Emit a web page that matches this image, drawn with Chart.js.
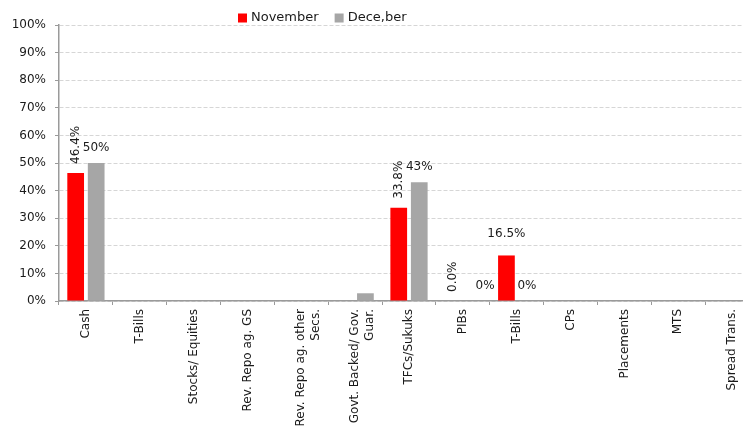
<!DOCTYPE html>
<html>
<head>
<meta charset="utf-8">
<script src="https://cdn.jsdelivr.net/npm/chart.js@4.4.0/dist/chart.umd.min.js"></script>
<style>
  html, body { margin: 0; padding: 0; background: #fff; }
  #wrap { width: 743px; height: 427px; overflow: hidden; position: relative; }
</style>
</head>
<body>
<div id="wrap"><canvas id="mixChart" width="760" height="427"></canvas></div>
<script>
(function () {
    'use strict';

    var categories = ['Cash', 'T-Bills', 'Stocks/ Equities', 'Rev. Repo ag. GS',
        ['Rev. Repo ag. other', 'Secs.'], ['Govt. Backed/ Gov.', 'Guar.'],
        'TFCs/Sukuks', 'PIBs', 'T-Bills', 'CPs', 'Placements', 'MTS', 'Spread Trans.'];
    var seriesNames = ['November', 'Dece,ber'];
    var novValues = [46.4, 0, 0, 0, 0, 0, 33.8, 0, 16.5, 0, 0, 0, 0];
    var decValues = [50, 0, 0, 0, 0, 2.8, 43, 0, 0, 0, 0, 0, 0];
    var novLabels = ['46.4%', null, null, null, null, null, '33.8%', '0.0%', '16.5%', null, null, null, null];
    var decLabels = ['50%', null, null, null, null, null, '43%', '0%', '0%', null, null, null, null];
    var novRotated = [true, false, false, false, false, false, true, true, false, false, false, false, false];
    var yTicks = [0, 10, 20, 30, 40, 50, 60, 70, 80, 90, 100];

    // small manual nudges (Excel moved a couple of labels)
    var nudges = { '1-7': [12, 0], '0-8': [0, -7] };

    var fontFam = '"DejaVu Sans", Verdana, sans-serif';
    var textColor = '#1a1a1a';
    var axisColor = '#9a9a9a';

    var valueLabels = {
        id: 'valueLabels',
        afterDatasetsDraw: function (chart) {
            var ctx = chart.ctx;
            ctx.save();
            ctx.font = '12px ' + fontFam;
            ctx.fillStyle = textColor;
            [novLabels, decLabels].forEach(function (labels, d) {
                var meta = chart.getDatasetMeta(d);
                labels.forEach(function (txt, i) {
                    if (txt === null) return;
                    var bar = meta.data[i];
                    var n = nudges[d + '-' + i] || [0, 0];
                    var x = bar.x + n[0], y = bar.y + n[1];
                    if (d === 0 && novRotated[i]) {
                        ctx.save();
                        ctx.translate(x, y - 9);
                        ctx.rotate(-Math.PI / 2);
                        ctx.textAlign = 'left';
                        ctx.textBaseline = 'middle';
                        ctx.fillText(txt, 0, 0);
                        ctx.restore();
                    } else {
                        ctx.textAlign = 'center';
                        ctx.textBaseline = 'middle';
                        ctx.fillText(txt, x, y - 15);
                    }
                });
            });
            ctx.restore();
        }
    };

    var topLegend = {
        id: 'topLegend',
        afterDraw: function (chart) {
            var ctx = chart.ctx;
            var x = 238, y = 18;
            ctx.save();
            ctx.font = '13px ' + fontFam;
            ctx.textBaseline = 'middle';
            ctx.textAlign = 'left';
            chart.data.datasets.forEach(function (ds) {
                ctx.fillStyle = ds.backgroundColor;
                ctx.fillRect(x, y - 4.5, 9, 9);
                ctx.fillStyle = textColor;
                ctx.fillText(ds.label, x + 13, y);
                x += 13 + ctx.measureText(ds.label).width + 16;
            });
            ctx.restore();
        }
    };

    var ctx = document.getElementById('mixChart').getContext('2d');
    new Chart(ctx, {
        type: 'bar',
        data: {
            labels: categories,
            datasets: [
                { label: seriesNames[0], data: novValues, backgroundColor: '#ff0000',
                  categoryPercentage: 0.762, barPercentage: 0.815 },
                { label: seriesNames[1], data: decValues, backgroundColor: '#a6a6a6',
                  categoryPercentage: 0.762, barPercentage: 0.815 }
            ]
        },
        options: {
            responsive: false,
            animation: false,
            layout: { padding: { top: 25, right: 1, left: 0, bottom: 0 } },
            plugins: {
                legend: { display: false },
                tooltip: { enabled: false }
            },
            scales: {
                x: {
                    offset: true,
                    grid: { offset: true, drawOnChartArea: false, tickLength: 4, tickColor: axisColor },
                    border: { color: axisColor, width: 1.5 },
                    ticks: {
                        autoSkip: false, minRotation: 90, maxRotation: 90, padding: 4,
                        color: textColor, font: { family: fontFam, size: 12 }
                    },
                    afterFit: function (s) { s.height = 126; }
                },
                y: {
                    min: 0, max: 100,
                    afterBuildTicks: function (s) {
                        s.ticks = yTicks.map(function (v) { return { value: v }; });
                    },
                    grid: { color: '#d6d6d6', tickLength: 4, tickColor: axisColor, tickBorderDash: [] },
                    border: { color: axisColor, width: 1.5, dash: [4, 2] },
                    ticks: {
                        padding: 9, color: textColor, font: { family: fontFam, size: 12 },
                        callback: function (v) { return v + '%'; }
                    },
                    afterFit: function (s) { s.width = 59; }
                }
            }
        },
        plugins: [valueLabels, topLegend]
    });
})();
</script>
</body>
</html>
